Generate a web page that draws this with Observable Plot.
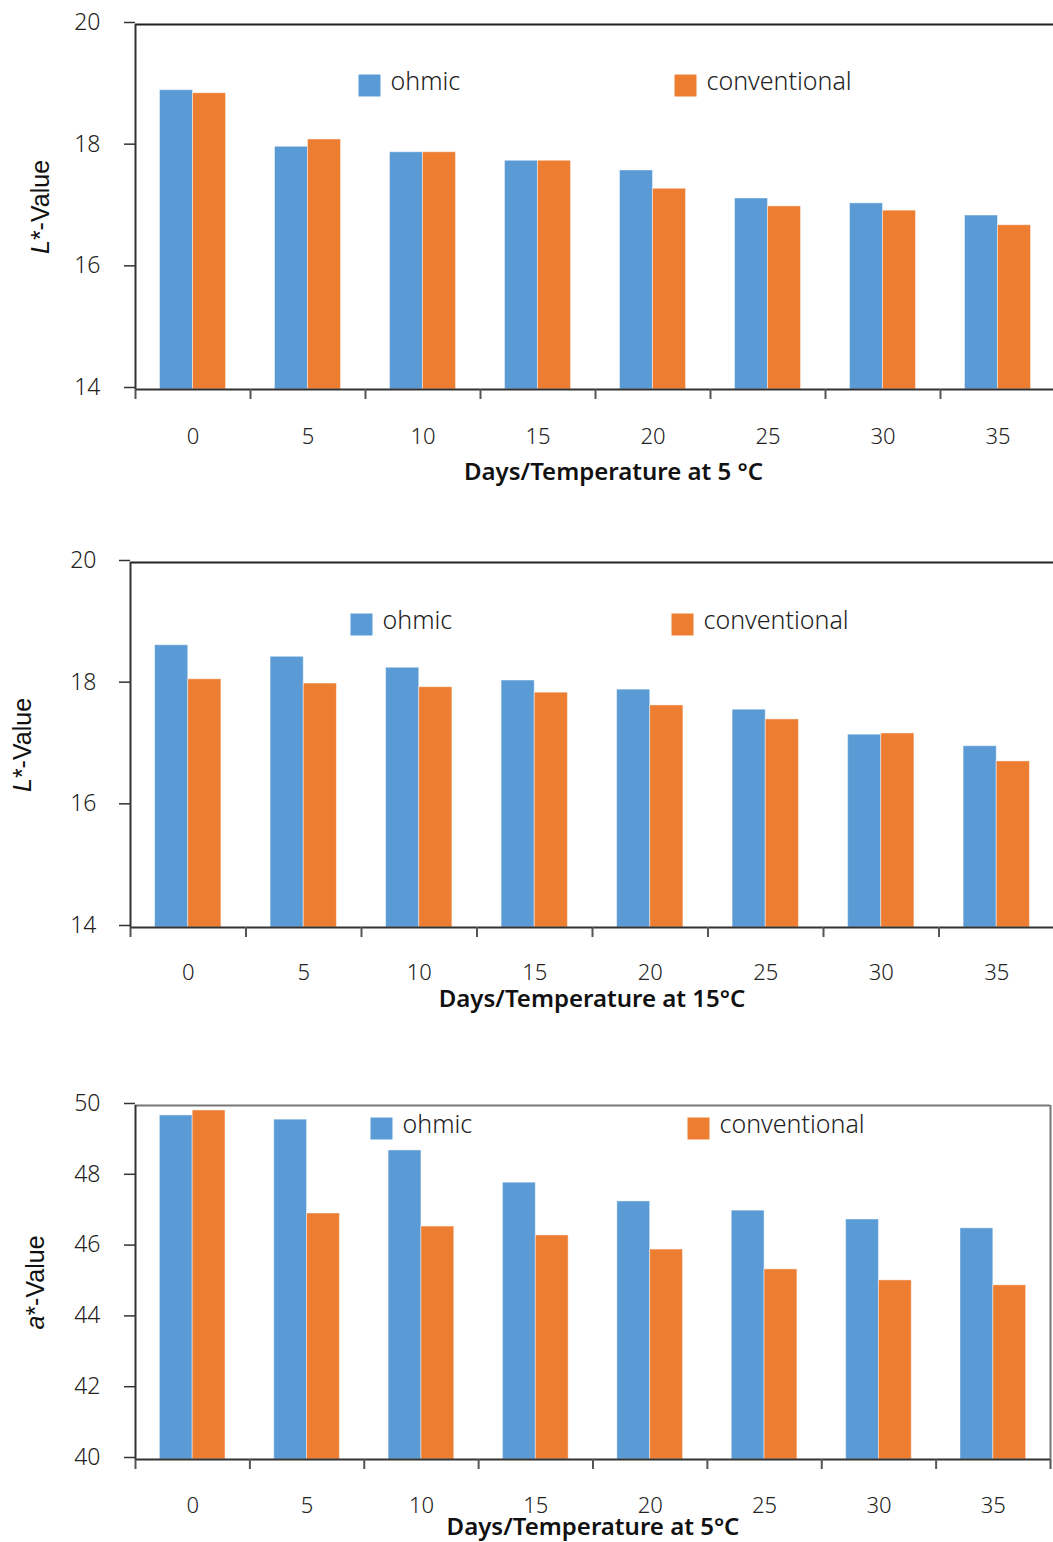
<!DOCTYPE html>
<html>
<head>
<meta charset="utf-8">
<script src="https://cdn.jsdelivr.net/npm/d3@7"></script>
<script src="https://cdn.jsdelivr.net/npm/@observablehq/plot@0.6"></script>
<style>
  body { margin: 0; background: #fff; overflow: hidden; }
  #page { position: relative; width: 1053px; height: 1542px; background: #fff; }
  #page svg { position: absolute; left: 0; }
</style>
</head>
<body>
<div id="page"></div>
<script>
// Storage days and the two heating treatments
const days = [0, 5, 10, 15, 20, 25, 30, 35];
const series = ["ohmic", "conventional"];
const colors = ["#5B9BD5", "#ED7D31"];

// L* during storage at 5 °C
const lOhmic5 = [18.92, 17.99, 17.90, 17.76, 17.60, 17.14, 17.06, 16.86];
const lConv5 = [18.87, 18.11, 17.90, 17.76, 17.30, 17.01, 16.94, 16.70];
// L* during storage at 15 °C
const lOhmic15 = [18.64, 18.45, 18.27, 18.06, 17.91, 17.58, 17.17, 16.98];
const lConv15 = [18.08, 18.01, 17.95, 17.86, 17.65, 17.42, 17.19, 16.73];
// a* during storage at 5 °C
const aOhmic5 = [49.72, 49.60, 48.73, 47.82, 47.29, 47.03, 46.78, 46.53];
const aConv5 = [49.86, 46.95, 46.58, 46.33, 45.93, 45.37, 45.06, 44.92];

const yTicksL = [14, 16, 18, 20];
const yTicksA = [40, 42, 44, 46, 48, 50];

const page = document.getElementById("page");
const tickFont = "'Noto Sans', 'Open Sans', sans-serif";

function panel(cfg) {
  const step = days[1] - days[0];
  // category boundaries: the x-axis ticks sit between the day groups
  const bounds = days.map(d => d - step / 2).concat([days[days.length - 1] + step / 2]);
  const barW = step * 0.287; // width of one bar in day units
  const rows = [];
  days.forEach((d, i) => {
    rows.push({day: d, series: series[0], value: cfg.ohmic[i], x1: d - barW, x2: d});
    rows.push({day: d, series: series[1], value: cfg.conventional[i], x1: d, x2: d + barW});
  });
  const yMin = cfg.yDomain[0], yMax = cfg.yDomain[1];

  const legendMarks = series.flatMap((s, i) => [
    Plot.dot([s], {
      frameAnchor: "top-left", dx: cfg.legendX[i], dy: cfg.legendY,
      symbol: "square", r: 12.4, fill: colors[i], stroke: "none"
    }),
    Plot.text([s], {
      frameAnchor: "top-left", dx: cfg.legendX[i] + 21, dy: cfg.legendY - 4,
      text: d => d, textAnchor: "start", lineAnchor: "middle",
      fontSize: 25, fill: "#222"
    })
  ]);

  const svg = Plot.plot({
    width: 1053,
    height: cfg.height,
    marginTop: cfg.marginTop,
    marginBottom: cfg.marginBottom,
    marginLeft: cfg.xRange[0],
    marginRight: cfg.marginRight,
    style: {fontFamily: tickFont, fontWeight: 300, color: "#222", background: "transparent", overflow: "visible"},
    x: {type: "linear", domain: [bounds[0], bounds[bounds.length - 1]], range: cfg.xRange, axis: null},
    y: {domain: cfg.yDomain, axis: null},
    color: {domain: series, range: colors},
    marks: [
      Plot.rectY(rows, {
        x1: "x1", x2: "x2", y1: yMin, y2: "value",
        fill: "series", stroke: "#fff", strokeOpacity: 0.45, strokeWidth: 1
      }),
      // frame lines: top edge, optional right edge, y axis and baseline
      Plot.ruleY([yMax], {stroke: cfg.edge, strokeWidth: 2}),
      cfg.rightEdge ? Plot.ruleX([bounds[bounds.length - 1]], {stroke: cfg.edge, strokeWidth: 2}) : null,
      Plot.ruleX([bounds[0]], {stroke: "#333", strokeWidth: 2}),
      Plot.ruleY([yMin], {stroke: "#333", strokeWidth: 2}),
      Plot.axisY(cfg.yTicks, {
        anchor: "left", tickSize: 11, tickPadding: cfg.yPad, fontSize: 23,
        tickFormat: d => String(d),
        stroke: "#333", strokeWidth: 1.5, dy: -2, label: null
      }),
      Plot.axisX(bounds, {
        anchor: "bottom", tickSize: 10, tickFormat: () => "",
        stroke: "#555", strokeWidth: 2, label: null
      }),
      Plot.axisX(days, {
        anchor: "bottom", tickSize: 0, tickPadding: cfg.xPad, fontSize: 22,
        tickFormat: d => String(d), label: null
      }),
      Plot.text([cfg.xLabel], {
        frameAnchor: "bottom", dx: cfg.xLabelDx, dy: cfg.xLabelDy,
        textAnchor: "middle", lineAnchor: "middle",
        fontSize: 24, fontWeight: 600, fill: "#111"
      }),
      Plot.text([cfg.yLabel], {
        frameAnchor: "left", dx: cfg.yLabelDx, rotate: -90,
        textAnchor: "middle", lineAnchor: "middle", fontSize: 25, fontWeight: "normal",
        fontFamily: "'Liberation Sans', Arial, sans-serif", fill: "#111"
      }),
      ...legendMarks
    ]
  });

  // italicise the variable letter of the y title (L*, a*)
  const full = cfg.yLabel;
  d3.select(svg).selectAll("text")
    .filter(function () { return this.textContent === full; })
    .each(function () {
      const t = d3.select(this);
      t.text(null);
      t.append("tspan").attr("font-style", "italic").text(full[0]);
      t.append("tspan").text(full.slice(1));
    });

  svg.style.top = cfg.top + "px";
  page.appendChild(svg);
}

panel({
  ohmic: lOhmic5, conventional: lConv5,
  yDomain: [14, 20], yTicks: yTicksL,
  xLabel: "Days/Temperature at 5 °C", yLabel: "L*-Value",
  top: 0, height: 500, marginTop: 24, marginBottom: 111, marginRight: 0,
  xRange: [135, 1055], yPad: 24, xPad: 39,
  xLabelDx: 19, xLabelDy: 83, yLabelDx: -95,
  legendX: [234, 550], legendY: 61,
  edge: "#222", rightEdge: false
});

panel({
  ohmic: lOhmic15, conventional: lConv15,
  yDomain: [14, 20], yTicks: yTicksL,
  xLabel: "Days/Temperature at 15°C", yLabel: "L*-Value",
  top: 510, height: 510, marginTop: 52, marginBottom: 93, marginRight: 0,
  xRange: [130, 1054], yPad: 23, xPad: 37,
  xLabelDx: 0, xLabelDy: 72, yLabelDx: -108,
  legendX: [231, 552], legendY: 62,
  edge: "#222", rightEdge: false
});

panel({
  ohmic: aOhmic5, conventional: aConv5,
  yDomain: [40, 50], yTicks: yTicksA,
  xLabel: "Days/Temperature at 5°C", yLabel: "a*-Value",
  top: 1040, height: 502, marginTop: 65, marginBottom: 83, marginRight: 3,
  xRange: [135, 1050], yPad: 24, xPad: 38,
  xLabelDx: 0, xLabelDy: 68, yLabelDx: -100,
  legendX: [246, 563], legendY: 23,
  edge: "#777", rightEdge: true
});
</script>
</body>
</html>
